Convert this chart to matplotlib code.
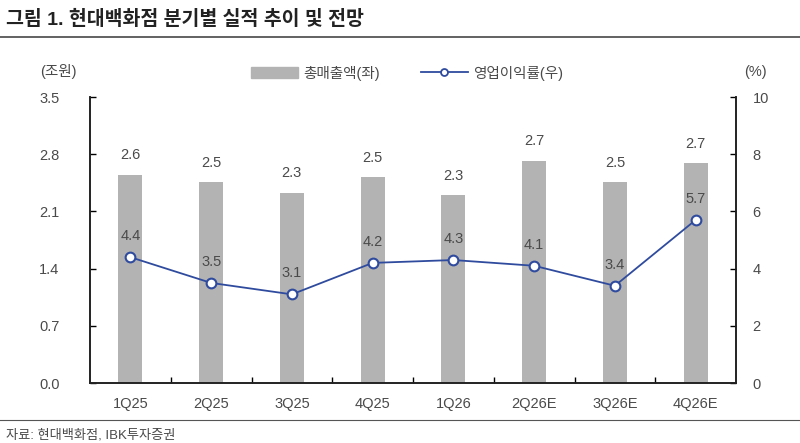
import matplotlib

matplotlib.use("Agg")
import matplotlib.pyplot as plt
from matplotlib.lines import Line2D
from matplotlib.patches import Patch
import numpy as np

plt.rcParams["font.family"] = ["Liberation Sans", "Noto Sans CJK KR", "DejaVu Sans"]

quarters = ["1Q25", "2Q25", "3Q25", "4Q25", "1Q26", "2Q26E", "3Q26E", "4Q26E"]
sales = [2.55, 2.46, 2.33, 2.52, 2.30, 2.72, 2.46, 2.69]
sales_labels = ["2.6", "2.5", "2.3", "2.5", "2.3", "2.7", "2.5", "2.7"]
margin = [4.4, 3.5, 3.1, 4.2, 4.3, 4.1, 3.4, 5.7]

BAR_COLOR = "#b3b3b3"
LINE_COLOR = "#2f4b9e"
TEXT_COLOR = "#4a4a4a"

fig = plt.figure(figsize=(8, 4.43), dpi=100)
ax = fig.add_axes([0.1125, 0.1354, 0.8075, 0.6456])
ax2 = ax.twinx()

x = np.arange(len(quarters))
ax.bar(x, sales, width=0.3, color=BAR_COLOR, zorder=1)
for xi, v, lab in zip(x, sales, sales_labels):
    ax.annotate(lab, (xi, v), xytext=(0, 9), textcoords="offset points",
                ha="center", va="bottom", fontsize=10.5, color=TEXT_COLOR)

ax2.plot(x, margin, color=LINE_COLOR, lw=1.3, marker="o", ms=7,
         mfc="white", mec=LINE_COLOR, mew=1.5, zorder=3)
for xi, v in zip(x, margin):
    ax2.annotate(f"{v:.1f}", (xi, v), xytext=(0, 10), textcoords="offset points",
                 ha="center", va="bottom", fontsize=10.5, color=TEXT_COLOR)

ax.set_xlim(-0.5, len(quarters) - 0.5)
ax.set_ylim(0, 3.5)
ax.set_yticks(np.arange(0, 3.51, 0.7))
ax.set_yticklabels([f"{t:.1f}" for t in np.arange(0, 3.51, 0.7)])
ax2.set_ylim(0, 10)
ax2.set_yticks(range(0, 11, 2))

ax.set_xticks(x)
ax.set_xticklabels(quarters)
ax.set_xticks(np.arange(0.5, len(quarters) - 1, 1), minor=True)
ax.tick_params(axis="x", which="major", length=0, pad=10, labelsize=10.5, labelcolor=TEXT_COLOR)
ax.tick_params(axis="x", which="minor", direction="in", length=4, width=1)
ax.tick_params(axis="y", direction="in", length=4, width=1, pad=22, labelsize=10.5, labelcolor=TEXT_COLOR)
ax2.tick_params(axis="y", direction="in", length=4, width=1, pad=12, labelsize=10.5, labelcolor=TEXT_COLOR)

for a in (ax, ax2):
    a.spines["top"].set_visible(False)
    for s in ("left", "right", "bottom"):
        a.spines[s].set_linewidth(1.2)
        a.spines[s].set_color("#222222")

handles = [Patch(color=BAR_COLOR),
           Line2D([], [], color=LINE_COLOR, lw=1.3, marker="o", ms=5,
                  mfc="white", mec=LINE_COLOR, mew=1.3)]
fig.legend(handles, ["총매출액(좌)", "영업이익률(우)"], loc="center", ncol=2,
           bbox_to_anchor=(0.509, 0.835), frameon=False, fontsize=10.5,
           labelcolor=TEXT_COLOR, handlelength=3.2, columnspacing=2.8, handletextpad=0.4)

fig.text(0.05, 0.838, "(조원)", ha="left", va="center", fontsize=10.5, color=TEXT_COLOR)
fig.text(0.93, 0.838, "(%)", ha="left", va="center", fontsize=10.5, color=TEXT_COLOR)

fig.text(0.008, 0.955, "그림 1. 현대백화점 분기별 실적 추이 및 전망", ha="left", va="center",
         fontsize=14, fontweight="bold", color="#222222")
fig.add_artist(Line2D([0, 1], [0.917, 0.917], color="#555555", lw=1.3))
fig.add_artist(Line2D([0, 1], [0.052, 0.052], color="#555555", lw=0.8))
fig.text(0.008, 0.018, "자료: 현대백화점, IBK투자증권", ha="left", va="center",
         fontsize=9.5, color=TEXT_COLOR)

fig.savefig("out.png", dpi=100)
